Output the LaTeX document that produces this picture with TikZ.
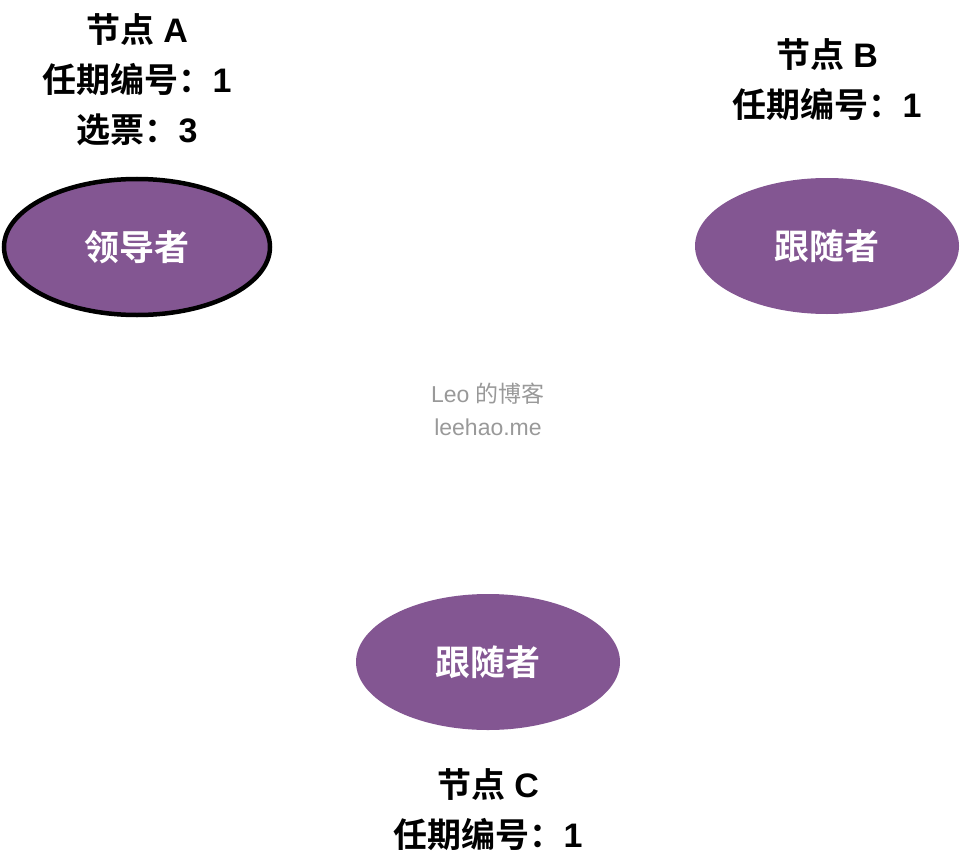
\documentclass[tikz,border=0pt]{standalone}
\usepackage{fontspec}
\setmainfont{Liberation Sans}
\newfontfamily\cjk{Noto Sans CJK SC}[BoldFont={Noto Sans CJK SC Bold}]
\newcommand{\zh}[1]{{\cjk #1}}
\usetikzlibrary{shapes.geometric}
\definecolor{rolepurple}{HTML}{835692}
\definecolor{markgray}{HTML}{999999}

\begin{document}
\begin{tikzpicture}[x=1pt, y=-1pt,
    role/.style={ellipse, fill=rolepurple, minimum width=264pt, minimum height=136pt,
        inner sep=0pt, text=white, font=\cjk\bfseries\fontsize{35}{40}\selectfont},
    info/.style={align=center, inner sep=0pt, font=\bfseries\fontsize{34}{50}\selectfont},
    watermarktext/.style={align=center, inner sep=0pt, text=markgray, font=\fontsize{23}{33}\selectfont}]
                \useasboundingbox (0,0) rectangle (960,861);
                
                % Nodes
                \node[role, draw=black, line width=4.5pt, minimum width=266pt] (leader) at (137,247) {领导者};
                \node[role] (followerB) at (827,246) {跟随者};
                \node[role] (followerC) at (488,662) {跟随者};
                
                % Node states
                \node[info] (stateA) at (137,80) {\zh{节点} A\\\zh{任期编号：}1\\\zh{选票：}3};
                \node[info] (stateB) at (827,80) {\zh{节点} B\\\zh{任期编号：}1};
                \node[info] (stateC) at (488,810) {\zh{节点} C\\\zh{任期编号：}1};
                
                % Watermark
                \node[watermarktext] (watermark) at (488,409) {Leo \zh{的博客}\\leehao.me};
            \end{tikzpicture}
\end{document}
